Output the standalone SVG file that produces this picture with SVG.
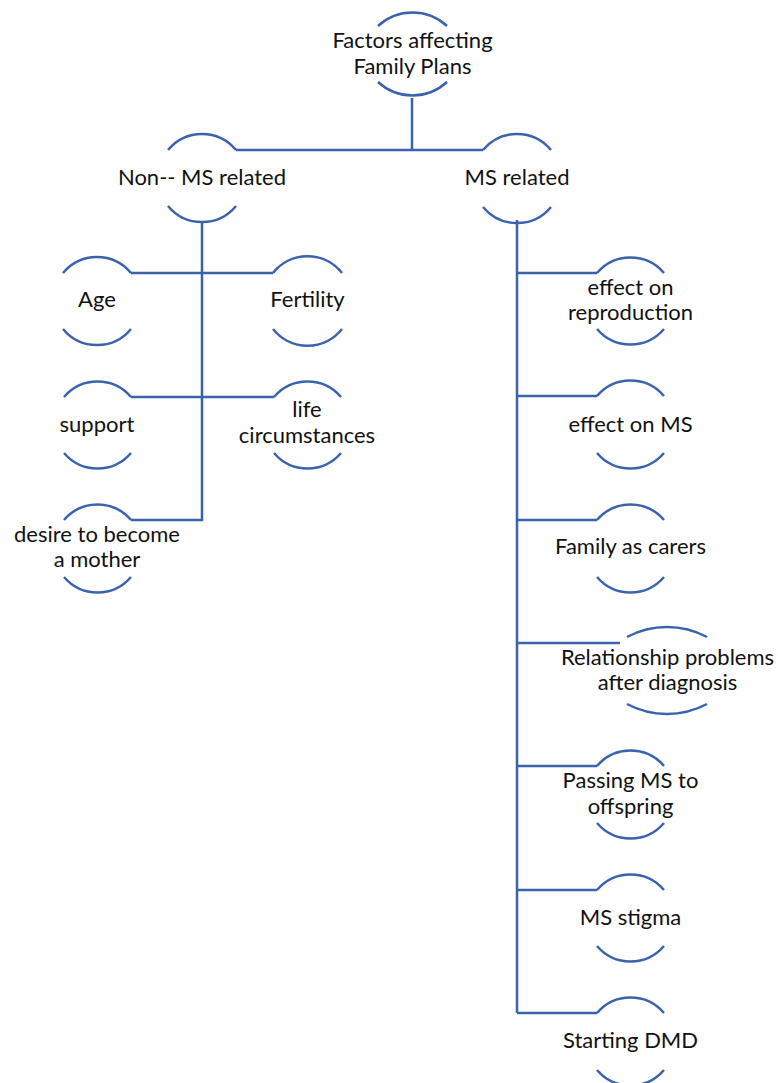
<svg xmlns="http://www.w3.org/2000/svg" width="778" height="1083" viewBox="0 0 778 1083">
<style>
.a{fill:none;stroke:#3b62ad;stroke-width:2.5}
.c{fill:none;stroke:#3b62ad;stroke-width:2.5}
text{font-family:Lato,"Open Sans",sans-serif;font-size:22px;fill:#111;text-anchor:middle}
</style>
<rect width="778" height="1083" fill="#fff"/>
<g id="connectors">
<path class="c" d="M412 98V150M236 150H483M202 221V520H131M131 273H273M131 397H274M517 220V1013M517 273H597M517 396H597M517 520H597M517 643H620M517 766H597M517 890H597M517 1013H597"/>
</g>
<g id="root">
<path class="a" d="M378 26A51 51 0 0 1 447 26M378 82A51 51 0 0 0 447 82"/>
<text x="412.5" y="48">Factors affecting</text>
<text x="412.5" y="74">Family Plans</text>
</g>
<g id="non-ms">
<path class="a" d="M168 150A44 44 0 0 1 236 150M168 206A44 44 0 0 0 236 206"/>
<text x="202" y="185">Non-- MS related</text>
</g>
<g id="ms">
<path class="a" d="M483 150A44 44 0 0 1 551 150M483 207A44 44 0 0 0 551 207"/>
<text x="517" y="185">MS related</text>
</g>
<g id="age">
<path class="a" d="M63 273A44 44 0 0 1 131 273M63 329A44 44 0 0 0 131 329"/>
<text x="97" y="307">Age</text>
</g>
<g id="fertility">
<path class="a" d="M273 273A44 44 0 0 1 342 273M273 329A44 44 0 0 0 342 329"/>
<text x="307.5" y="307">Fertility</text>
</g>
<g id="support">
<path class="a" d="M64 397A44 44 0 0 1 131 397M64 453A44 44 0 0 0 131 453"/>
<text x="97" y="432">support</text>
</g>
<g id="life">
<path class="a" d="M274 397A44 44 0 0 1 341 397M274 453A44 44 0 0 0 341 453"/>
<text x="307" y="417">life</text>
<text x="307" y="443">circumstances</text>
</g>
<g id="desire">
<path class="a" d="M64 520A44 44 0 0 1 131 520M64 577A44 44 0 0 0 131 577"/>
<text x="97" y="542">desire to become</text>
<text x="97" y="567">a mother</text>
</g>
<g id="reproduction">
<path class="a" d="M597 273A44 44 0 0 1 664 273M597 329A44 44 0 0 0 664 329"/>
<text x="630.5" y="295">effect on</text>
<text x="630.5" y="320">reproduction</text>
</g>
<g id="effect-ms">
<path class="a" d="M597 396A44 44 0 0 1 664 396M597 453A44 44 0 0 0 664 453"/>
<text x="630.5" y="432">effect on MS</text>
</g>
<g id="carers">
<path class="a" d="M597 520A44 44 0 0 1 664 520M597 577A44 44 0 0 0 664 577"/>
<text x="630.5" y="554">Family as carers</text>
</g>
<g id="relationship">
<path class="a" d="M627 637A85 85 0 0 1 707 637M627 704A85 85 0 0 0 707 704"/>
<text x="667.5" y="665">Relationship problems</text>
<text x="667.5" y="690">after diagnosis</text>
</g>
<g id="passing">
<path class="a" d="M597 766A44 44 0 0 1 664 766M597 823A44 44 0 0 0 664 823"/>
<text x="630.5" y="788">Passing MS to</text>
<text x="630.5" y="814">offspring</text>
</g>
<g id="stigma">
<path class="a" d="M597 890A44 44 0 0 1 664 890M597 946A44 44 0 0 0 664 946"/>
<text x="630.5" y="925">MS stigma</text>
</g>
<g id="dmd">
<path class="a" d="M597 1013A44 44 0 0 1 664 1013M597 1070A44 44 0 0 0 664 1070"/>
<text x="630.5" y="1048">Starting DMD</text>
</g>
</svg>
